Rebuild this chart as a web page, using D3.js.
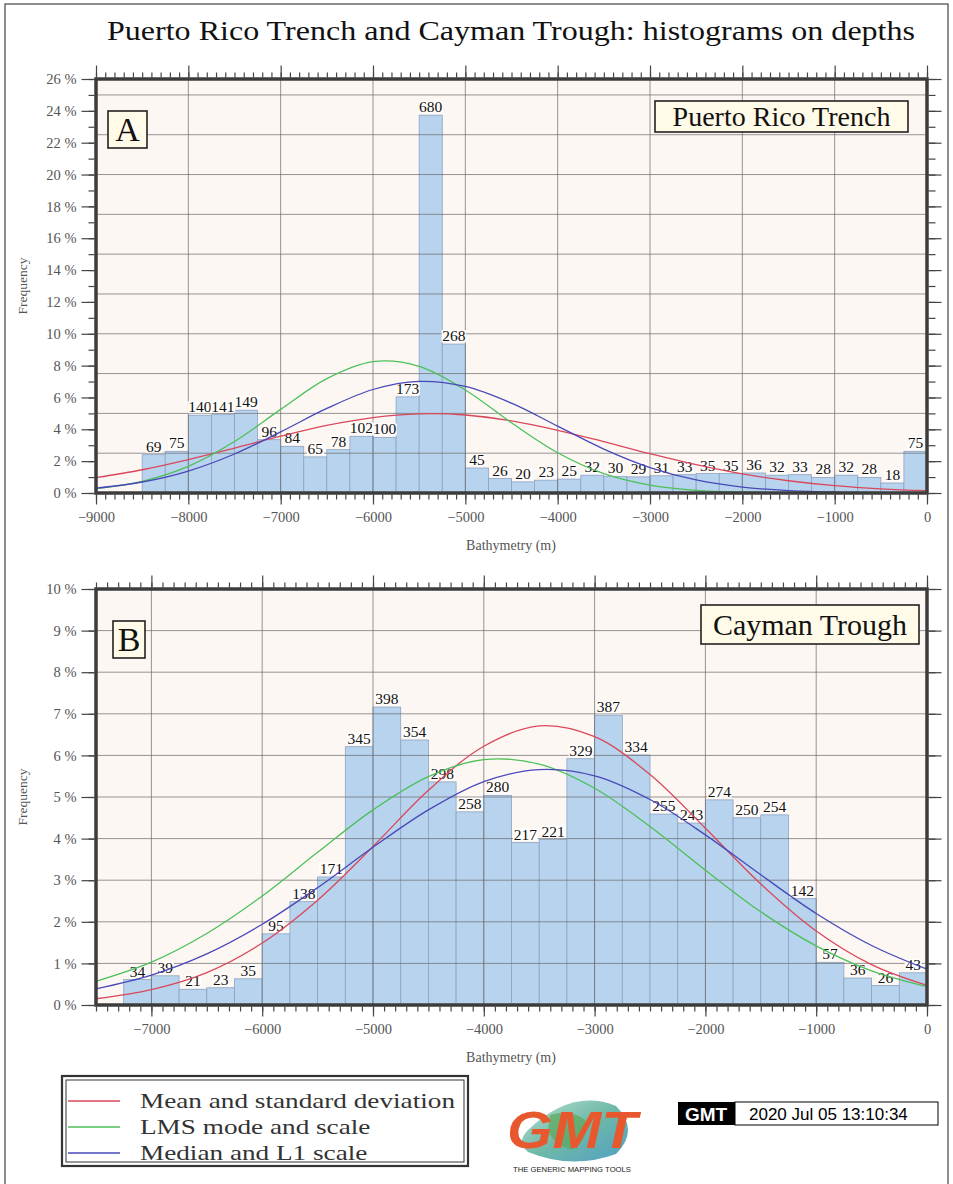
<!DOCTYPE html>
<html>
<head>
<meta charset="utf-8">
<script src="https://cdn.jsdelivr.net/npm/d3@7"></script>
<style>
  body { margin: 0; background: #fff; }
  svg { display: block; }
</style>
</head>
<body>
<script>
// Puerto Rico Trench histogram (250 m bins, counts per bin)
const prtBins = [-8500,-8250,-8000,-7750,-7500,-7250,-7000,-6750,-6500,-6250,-6000,-5750,-5500,-5250,-5000,-4750,-4500,-4250,-4000,-3750,-3500,-3250,-3000,-2750,-2500,-2250,-2000,-1750,-1500,-1250,-1000,-750,-500,-250];
const prtCounts = [69,75,140,141,149,96,84,65,78,102,100,173,680,268,45,26,20,23,25,32,30,29,31,33,35,35,36,32,33,28,32,28,18,75];

// Cayman Trough histogram
const ctBins = [-7250,-7000,-6750,-6500,-6250,-6000,-5750,-5500,-5250,-5000,-4750,-4500,-4250,-4000,-3750,-3500,-3250,-3000,-2750,-2500,-2250,-2000,-1750,-1500,-1250,-1000,-750,-500,-250];
const ctCounts = [34,39,21,23,35,95,138,171,345,398,354,298,258,280,217,221,329,387,334,255,243,274,250,254,142,57,36,26,43];

// fitted curves (frequency in %)
const prtCurveX = [-9000,-8500,-8000,-7500,-7000,-6500,-6000,-5500,-5000,-4500,-4000,-3500,-3000,-2500,-2000,-1500,-1000,-500,0];
const prtMean   = [0.96,1.46,2.10,2.82,3.57,4.25,4.74,4.97,4.90,4.53,3.94,3.22,2.47,1.78,1.20,0.77,0.46,0.26,0.14];
const prtLms    = [0.27,0.73,1.67,3.23,5.25,7.18,8.25,7.96,6.47,4.41,2.53,1.22,0.50,0.17,0.05,0.01,0.00,0.00,0.00];
const prtMedian = [0.30,0.69,1.38,2.45,3.84,5.31,6.50,7.01,6.69,5.64,4.20,2.76,1.60,0.82,0.37,0.15,0.05,0.02,0.01];

const ctCurveX = [-7500,-7000,-6500,-6000,-5500,-5000,-4500,-4000,-3500,-3000,-2500,-2000,-1500,-1000,-500,0];
const ctMean   = [0.15,0.37,0.78,1.49,2.52,3.81,5.16,6.22,6.71,6.45,5.54,4.25,2.91,1.78,0.97,0.47];
const ctLms    = [0.57,1.03,1.72,2.62,3.67,4.69,5.49,5.90,5.79,5.21,4.29,3.24,2.24,1.42,0.82,0.44];
const ctMedian = [0.39,0.72,1.23,1.94,2.82,3.79,4.69,5.37,5.66,5.51,4.94,4.09,3.13,2.20,1.43,0.86];

const legendNames = ["Mean and standard deviation", "LMS mode and scale", "Median and L1 scale"];
const curveColors = ["#d9485a", "#4cc058", "#4848b8"];

const binWidth = 250;
const serif = "'Liberation Serif','DejaVu Serif',serif";
const sans = "'Liberation Sans',Arial,sans-serif";

const svg = d3.select("body").append("svg").attr("width", 953).attr("height", 1184);

// page frame
svg.append("rect").attr("x", 5).attr("y", 4).attr("width", 943).attr("height", 1200)
  .attr("fill", "none").attr("stroke", "#444").attr("stroke-width", 1.2);

svg.append("text").attr("x", 511).attr("y", 40).attr("text-anchor", "middle")
  .attr("font-family", serif).attr("font-size", 27).attr("fill", "#111")
  .attr("textLength", 808).attr("lengthAdjust", "spacingAndGlyphs")
  .text("Puerto Rico Trench and Cayman Trough: histograms on depths");

const fmtX = d => d < 0 ? "\u2212" + Math.abs(d) : String(d);

function panel(cfg) {
  const g = svg.append("g");
  const x = d3.scaleLinear().domain(cfg.xDomain).range([96, 927]);
  const y = d3.scaleLinear().domain([0, cfg.yMax]).range([cfg.bottom, cfg.top]);
  const total = d3.sum(cfg.counts);
  const bars = cfg.bins.map((b, i) => ({x0: b, x1: b + binWidth, n: cfg.counts[i], f: cfg.counts[i] / total * 100}));

  g.append("rect").attr("x", 96).attr("y", cfg.top).attr("width", 831).attr("height", cfg.bottom - cfg.top)
    .attr("fill", "#fdf7f4");

  g.selectAll(".bar").data(bars).join("rect").attr("class", "bar")
    .attr("x", d => x(d.x0)).attr("width", d => x(d.x1) - x(d.x0))
    .attr("y", d => y(d.f)).attr("height", d => cfg.bottom - y(d.f))
    .attr("fill", "#b8d3ee").attr("stroke", "#8aa3c2").attr("stroke-width", 0.8);

  // grid
  const vx = d3.range(-1000, cfg.xDomain[0], -1000);
  g.selectAll(".vg").data(vx).join("line").attr("class", "vg")
    .attr("x1", d => x(d)).attr("x2", d => x(d)).attr("y1", cfg.top).attr("y2", cfg.bottom)
    .attr("stroke", "#6a6a6a").attr("stroke-opacity", 0.7).attr("stroke-width", 1);
  g.selectAll(".hg").data(cfg.gridY).join("line").attr("class", "hg")
    .attr("x1", 96).attr("x2", 927).attr("y1", d => y(d)).attr("y2", d => y(d))
    .attr("stroke", "#6a6a6a").attr("stroke-opacity", 0.7).attr("stroke-width", 1);

  // bar count labels
  const lab = g.selectAll(".lab").data(bars).join("g").attr("class", "lab");
  lab.append("rect")
    .attr("x", d => x((d.x0 + d.x1) / 2) - String(d.n).length * 3.75 - 1)
    .attr("y", d => y(d.f) - 14).attr("width", d => String(d.n).length * 7.5 + 2).attr("height", 12)
    .attr("fill", "#fffdfb");
  lab.append("text")
    .attr("x", d => x((d.x0 + d.x1) / 2)).attr("y", d => y(d.f) - 3)
    .attr("text-anchor", "middle").attr("font-family", serif).attr("font-size", 15.5).attr("fill", "#111")
    .text(d => d.n);

  // fitted curves
  const line = d3.line().x(d => x(d[0])).y(d => y(d[1])).curve(d3.curveCatmullRom);
  cfg.curves.forEach((vals, k) => {
    g.append("path").datum(cfg.curveX.map((cx, i) => [cx, vals[i]]))
      .attr("d", line).attr("fill", "none").attr("stroke", curveColors[k]).attr("stroke-width", 1.3);
  });

  // axes
  const xMajor = d3.range(0, cfg.xDomain[0] - 1, -1000);
  const xMinor = d3.range(0, cfg.xDomain[0] - 1, -100);
  const styleAxis = s => {
    s.attr("font-family", serif).attr("font-size", 14.5);
    s.select(".domain").remove();
    s.selectAll(".tick line").attr("stroke", "#444").attr("stroke-width", 1.2);
    s.selectAll(".tick text").attr("font-family", serif).attr("font-size", 14.5).attr("fill", "#555");
  };
  const off = 1.5;
  g.append("g").attr("transform", `translate(0,${cfg.bottom + off})`)
    .call(d3.axisBottom(x).tickValues(xMinor).tickSize(5).tickFormat("")).call(styleAxis);
  g.append("g").attr("transform", `translate(0,${cfg.bottom + off})`)
    .call(d3.axisBottom(x).tickValues(xMajor).tickSize(10).tickPadding(7).tickFormat(fmtX)).call(styleAxis);
  g.append("g").attr("transform", `translate(0,${cfg.top - off})`)
    .call(d3.axisTop(x).tickValues(xMinor).tickSize(5).tickFormat("")).call(styleAxis);
  g.append("g").attr("transform", `translate(0,${cfg.top - off})`)
    .call(d3.axisTop(x).tickValues(xMajor).tickSize(12).tickFormat("")).call(styleAxis);

  const yMajor = d3.range(0, cfg.yMax + 0.001, cfg.yStep);
  const yMinor = d3.range(0, cfg.yMax + 0.001, cfg.yMinorStep);
  g.append("g").attr("transform", `translate(${96 - off},0)`)
    .call(d3.axisLeft(y).tickValues(yMinor).tickSize(6).tickFormat("")).call(styleAxis);
  g.append("g").attr("transform", `translate(${96 - off},0)`)
    .call(d3.axisLeft(y).tickValues(yMajor).tickSize(13).tickPadding(5).tickFormat(d => d + " %")).call(styleAxis);
  g.append("g").attr("transform", `translate(${927 + off},0)`)
    .call(d3.axisRight(y).tickValues(yMinor).tickSize(7).tickFormat("")).call(styleAxis);
  g.append("g").attr("transform", `translate(${927 + off},0)`)
    .call(d3.axisRight(y).tickValues(yMajor).tickSize(13).tickFormat("")).call(styleAxis);

  // frame
  g.append("rect").attr("x", 96).attr("y", cfg.top).attr("width", 831).attr("height", cfg.bottom - cfg.top)
    .attr("fill", "none").attr("stroke", "#3c3c3c").attr("stroke-width", 3.5);

  g.append("text").attr("transform", `translate(27,${(cfg.top + cfg.bottom) / 2}) rotate(-90)`)
    .attr("text-anchor", "middle").attr("font-family", serif).attr("font-size", 13.5).attr("fill", "#555")
    .text("Frequency");
  g.append("text").attr("x", 511).attr("y", cfg.bottom + 57).attr("text-anchor", "middle")
    .attr("font-family", serif).attr("font-size", 14).attr("fill", "#555").text("Bathymetry (m)");

  // tag boxes
  const tag = (b, txt, fs) => {
    g.append("rect").attr("x", b[0]).attr("y", b[1]).attr("width", b[2]).attr("height", b[3])
      .attr("fill", "#fffbe8").attr("stroke", "#222").attr("stroke-width", 1.6);
    g.append("text").attr("x", b[0] + b[2] / 2).attr("y", b[1] + b[3] / 2 + fs * 0.34)
      .attr("text-anchor", "middle").attr("font-family", serif).attr("font-size", fs).attr("fill", "#111")
      .text(txt);
  };
  tag(cfg.letterBox, cfg.letter, 34);
  tag(cfg.nameBox, cfg.name, cfg.nameSize);
}

panel({
  top: 79, bottom: 493, xDomain: [-9000, 0], yMax: 26, yStep: 2, yMinorStep: 1,
  gridY: [2.5, 5, 7.5, 10, 12.5, 15, 17.5, 20, 22.5, 25],
  bins: prtBins, counts: prtCounts,
  curveX: prtCurveX, curves: [prtMean, prtLms, prtMedian],
  letter: "A", letterBox: [108, 111, 39, 37],
  name: "Puerto Rico Trench", nameBox: [655, 101, 253, 31], nameSize: 28
});

panel({
  top: 589, bottom: 1005, xDomain: [-7500, 0], yMax: 10, yStep: 1, yMinorStep: 1,
  gridY: [1, 2, 3, 4, 5, 6, 7, 8, 9],
  bins: ctBins, counts: ctCounts,
  curveX: ctCurveX, curves: [ctMean, ctLms, ctMedian],
  letter: "B", letterBox: [113, 621, 32, 37],
  name: "Cayman Trough", nameBox: [701, 605, 218, 39], nameSize: 30
});

// legend
const lg = svg.append("g");
lg.append("rect").attr("x", 62).attr("y", 1076).attr("width", 406).attr("height", 90)
  .attr("fill", "#fff").attr("stroke", "#333").attr("stroke-width", 2.2);
lg.append("rect").attr("x", 66).attr("y", 1080).attr("width", 398).attr("height", 82)
  .attr("fill", "none").attr("stroke", "#333").attr("stroke-width", 1);
const legTexts = legendNames.map((nm, i) => {
  const yy = 1101 + i * 26;
  lg.append("line").attr("x1", 68).attr("x2", 120).attr("y1", yy).attr("y2", yy)
    .attr("stroke", curveColors[i]).attr("stroke-width", 1.4);
  return lg.append("text").attr("x", 140).attr("y", yy + 7).attr("font-family", serif).attr("font-size", 22)
    .attr("fill", "#333").text(nm);
});
// widen legend text so the first entry spans about 315 px like the reference
const w0 = legTexts[0].node().getComputedTextLength();
legTexts.forEach(t => {
  const w = t.node().getComputedTextLength();
  t.attr("textLength", w * 315 / w0).attr("lengthAdjust", "spacingAndGlyphs");
});

// GMT logo (approximation)
const logo = svg.append("g");
const grad = svg.append("defs").append("linearGradient").attr("id", "globe").attr("x1", 0).attr("y1", 0).attr("x2", 1).attr("y2", 1);
grad.append("stop").attr("offset", 0).attr("stop-color", "#b8e0d0");
grad.append("stop").attr("offset", 0.5).attr("stop-color", "#6fb9a8");
grad.append("stop").attr("offset", 1).attr("stop-color", "#4f9fc4");
logo.append("path").attr("d", "M528,1130 Q572,1088 616,1106 Q640,1130 616,1154 Q572,1170 528,1152 Q516,1142 528,1130 Z")
  .attr("fill", "url(#globe)");
logo.append("path").attr("d", "M550,1115 Q570,1108 585,1120 Q590,1138 572,1150 Q556,1146 548,1132 Z")
  .attr("fill", "#5aa85a").attr("opacity", 0.7);
logo.append("text").attr("x", 572).attr("y", 1148).attr("text-anchor", "middle")
  .attr("font-family", sans).attr("font-weight", "bold").attr("font-style", "italic")
  .attr("font-size", 52).attr("fill", "#e8582e").attr("textLength", 130).attr("lengthAdjust", "spacingAndGlyphs")
  .text("GMT");
logo.append("text").attr("x", 572).attr("y", 1172).attr("text-anchor", "middle")
  .attr("font-family", sans).attr("font-size", 8).attr("fill", "#222").attr("textLength", 118)
  .attr("lengthAdjust", "spacingAndGlyphs").text("THE GENERIC MAPPING TOOLS");

// timestamp
svg.append("rect").attr("x", 678).attr("y", 1102).attr("width", 57).attr("height", 23).attr("fill", "#000");
svg.append("text").attr("x", 706).attr("y", 1121).attr("text-anchor", "middle").attr("font-family", sans)
  .attr("font-weight", "bold").attr("font-size", 19).attr("fill", "#fff").text("GMT");
svg.append("rect").attr("x", 735).attr("y", 1102).attr("width", 203).attr("height", 23)
  .attr("fill", "#fff").attr("stroke", "#000").attr("stroke-width", 1);
svg.append("text").attr("x", 749).attr("y", 1120).attr("font-family", sans).attr("font-size", 17)
  .attr("fill", "#000").text("2020 Jul 05 13:10:34");
</script>
</body>
</html>
